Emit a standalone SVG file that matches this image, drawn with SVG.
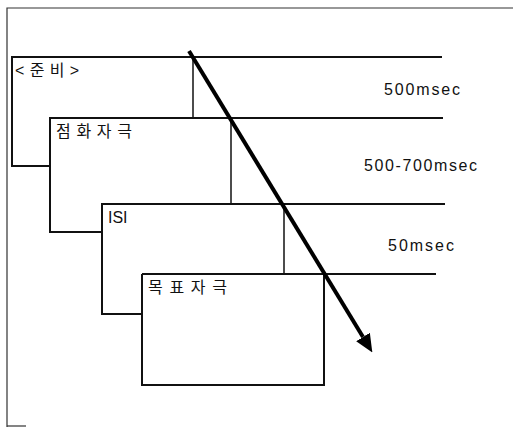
<svg xmlns="http://www.w3.org/2000/svg" width="513" height="428" viewBox="0 0 513 428">
<defs>
<style>
.frame{stroke:#333;stroke-width:1.2;fill:none}
.box{stroke:#111;stroke-width:2;fill:none}
.tick{stroke:#111;stroke-width:1.5;fill:none}
.lbl{font-family:"Liberation Sans","Noto Sans CJK KR",sans-serif;font-size:16px;fill:#111}
.dur{font-family:"Liberation Sans",Arial,sans-serif;font-size:16px;fill:#111}
</style>
<marker id="ah" markerUnits="userSpaceOnUse" markerWidth="18" markerHeight="18" refX="0" refY="8" orient="auto" viewBox="0 0 18 16">
<path d="M0,0 L18,8 L0,16 z" fill="#000"/>
</marker>
</defs>
<rect width="513" height="428" fill="#fff"/>
<g id="frame">
<path class="frame" d="M7,427 L7,8 L513,8"/>
<path class="frame" d="M7,426 L26,426"/>
</g>
<g id="node-prep">
<path class="box" d="M50,166 L12,166 L12,57 L442,57"/>
<path class="tick" d="M193,57 L193,118"/>
<text class="lbl" x="15" y="76" textLength="64" lengthAdjust="spacing">&lt;준비&gt;</text>
</g>
<g id="node-prime">
<path class="box" d="M102,232 L50,232 L50,118 L443,118"/>
<path class="tick" d="M231,118 L231,205"/>
<text class="lbl" x="56" y="137" textLength="76" lengthAdjust="spacing">점화자극</text>
</g>
<g id="node-isi">
<path class="box" d="M142,314 L102,314 L102,204 L445,204"/>
<path class="tick" d="M284,204 L284,274"/>
<text class="lbl" x="108" y="223" font-size="14">ISI</text>
</g>
<g id="node-target">
<path class="box" d="M142,274 L436,274"/>
<path class="box" d="M142,274 L142,385 L324,385 L324,274"/>
<text class="lbl" x="148" y="293" textLength="79" lengthAdjust="spacing">목표자극</text>
</g>
<g id="durations">
<text class="dur" x="384" y="95" textLength="76" lengthAdjust="spacing">500msec</text>
<text class="dur" x="364" y="171" textLength="113" lengthAdjust="spacing">500-700msec</text>
<text class="dur" x="388" y="251" textLength="66" lengthAdjust="spacing">50msec</text>
</g>
<g id="connectors">
<line x1="189" y1="51" x2="363" y2="337" stroke="#000" stroke-width="4" marker-end="url(#ah)"/>
</g>
</svg>
